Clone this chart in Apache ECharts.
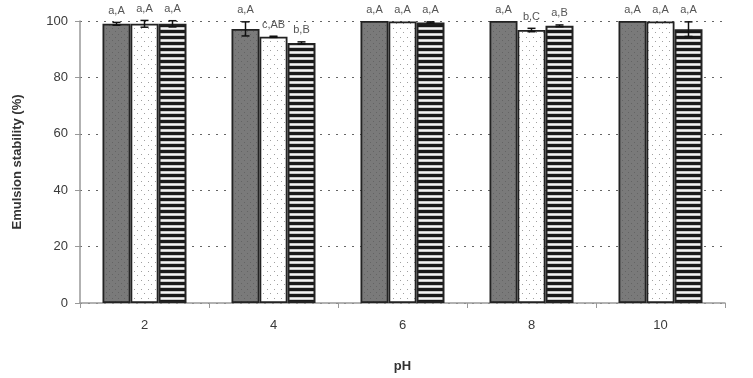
<!DOCTYPE html>
<html><head><meta charset="utf-8">
<script src="https://cdn.jsdelivr.net/npm/echarts@6/dist/echarts.min.js"></script>
<style>html,body{margin:0;padding:0;background:#fff}#c{width:753px;height:378px}</style>
</head><body><div id="c"></div>
<script>
const categories = ['2','4','6','8','10'];
const seriesA = [99.0, 97.2, 100, 100, 100];
const seriesB = [99.0, 94.4, 99.8, 96.8, 99.8];
const seriesC = [99.0, 92.2, 99.5, 98.3, 97.1];
const errA = [0.5, 2.5, 0, 0, 0];
const errB = [1.2, 0.2, 0, 0.6, 0];
const errC = [1.1, 0.4, 0.2, 0.3, 2.6];
const lblA = ['a,A','a,A','a,A','a,A','a,A'];
const lblB = ['a,A','c,AB','a,A','b,C','a,A'];
const lblC = ['a,A','b,B','a,A','a,B','a,A'];
const yTicks = [0,20,40,60,80,100];

function pat(w,h,draw){const c=document.createElement('canvas');c.width=w;c.height=h;const g=c.getContext('2d');draw(g);return {image:c,repeat:'repeat'};}
const patDark = pat(6,6,g=>{g.fillStyle='#7a7a7a';g.fillRect(0,0,6,6);g.fillStyle='#646464';g.fillRect(1,1,1,1);g.fillRect(4,4,1,1);});
const patDot = pat(7,9,g=>{g.fillStyle='#fff';g.fillRect(0,0,7,9);g.fillStyle='#a0a0a0';g.fillRect(1,1,1,1);g.fillRect(4,5,1,1);});
const patStripe = pat(6,6,g=>{g.fillStyle='#1a1a1a';g.fillRect(0,0,6,3);g.fillStyle='#c8c8c8';g.fillRect(0,3,6,3);g.fillStyle='#f4f4f4';g.fillRect(0,4,6,1);});

const BW = 28;
const chart = echarts.init(document.getElementById('c'));
const sets = [[seriesA,errA,lblA],[seriesB,errB,lblB],[seriesC,errC,lblC]];
const pats = [patDark, patDot, patStripe];

const series = [];
sets.forEach((s,k)=>{
  series.push({type:'bar', data:s[0], barWidth:BW, barGap:'0%', barCategoryGap:'33%',
    itemStyle:{color:pats[k], borderColor:'#222', borderWidth:k===2?2:1.8}, z:2, silent:true});
});
sets.forEach((s,k)=>{
  series.push({type:'custom', z:5, silent:true,
    data:s[0].map((v,i)=>[i,v,s[1][i]]),
    renderItem:function(params,api){
      const i=api.value(0), v=api.value(1), e=api.value(2);
      const c=api.coord([i,v]); const x=c[0]+(k-1)*BW;
      const top=api.coord([i,Math.min(v+e,101)])[1], bot=api.coord([i,v-e])[1];
      const ch=[];
      if(e>0){
        const st={stroke:'#111',lineWidth:1.5};
        ch.push({type:'line',shape:{x1:x,y1:top,x2:x,y2:bot},style:st});
        ch.push({type:'line',shape:{x1:x-4,y1:top,x2:x+4,y2:top},style:st});
        ch.push({type:'line',shape:{x1:x-4,y1:bot,x2:x+4,y2:bot},style:st});
      }
      ch.push({type:'text',style:{text:s[2][i],x:x,y:Math.min(top,c[1])-6,textAlign:'center',textVerticalAlign:'bottom',
        font:'11px "Liberation Sans", Arial',fill:'#555'}});
      return {type:'group',children:ch};
    }});
});

chart.setOption({
  animation:false,
  grid:{left:80,right:28,top:21,bottom:72},
  xAxis:{type:'category',data:categories,
    name:'pH',nameLocation:'middle',nameGap:57,
    nameTextStyle:{fontFamily:'Liberation Sans',fontWeight:'bold',fontSize:13,color:'#333'},
    axisLine:{lineStyle:{color:'#999',width:1.5}},
    axisTick:{show:true,length:5,lineStyle:{color:'#999'}},
    axisLabel:{fontFamily:'Liberation Sans',fontSize:13,color:'#3a3a3a',margin:16}},
  yAxis:{type:'value',min:0,max:100,interval:20,
    name:'Emulsion stability (%)',nameLocation:'middle',nameGap:56,nameRotate:90,
    nameTextStyle:{fontFamily:'Liberation Sans',fontWeight:'bold',fontSize:13,color:'#333'},
    axisLine:{show:true,lineStyle:{color:'#999',width:1.5}},
    axisTick:{show:true,length:5,lineStyle:{color:'#999'}},
    axisLabel:{fontFamily:'Liberation Sans',fontSize:13,color:'#3a3a3a',margin:12,
      formatter:v=>yTicks.includes(v)?String(v):''},
    splitLine:{show:true,lineStyle:{color:'#666',type:[2,6],width:1}}},
  series:series
});
</script></body></html>
